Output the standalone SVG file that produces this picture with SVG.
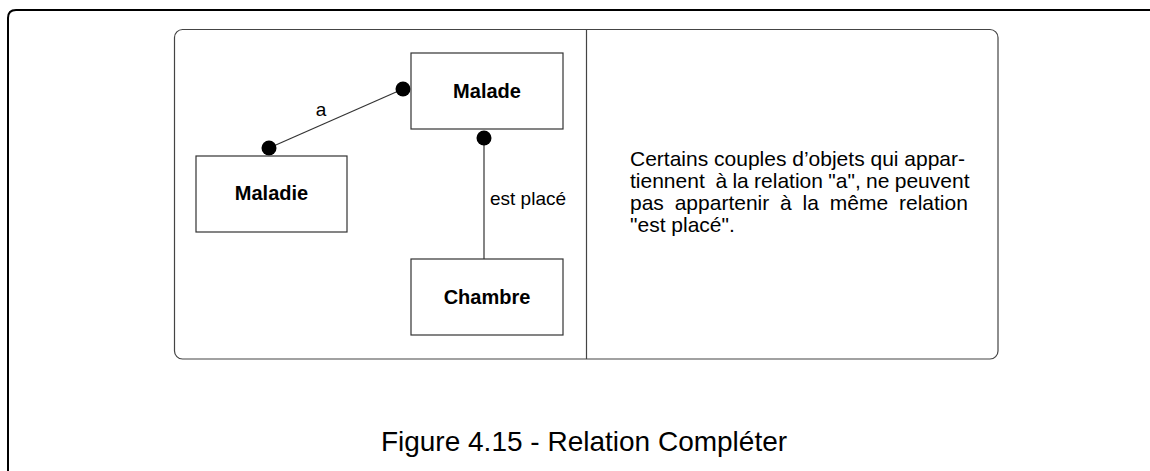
<svg xmlns="http://www.w3.org/2000/svg" width="1150" height="471" viewBox="0 0 1150 471">
<style>
.frame{fill:none;stroke:#000;stroke-width:2}
.panel{fill:none;stroke:#444;stroke-width:1.2}
.box{fill:#fff;stroke:#333;stroke-width:1.2}
.edge{fill:none;stroke:#333;stroke-width:1.2}
.dot{fill:#000}
.bold{font-family:"Liberation Sans",Arial,sans-serif;font-weight:bold;font-size:20px;fill:#000;text-anchor:middle}
.lbl{font-family:"Liberation Sans",Arial,sans-serif;font-size:19px;fill:#000}
.para{font-family:"Liberation Sans",Arial,sans-serif;font-size:21px;fill:#000;white-space:pre}
.cap{font-family:"Liberation Sans",Arial,sans-serif;font-size:28px;fill:#000;text-anchor:middle}
</style>
<rect width="1150" height="471" fill="#fff"/>
<path class="frame" d="M8 471 V18 Q8 10 16 10 H1150"/>
<rect class="panel" x="174.5" y="29.5" width="823.5" height="329.5" rx="8"/>
<line class="panel" x1="586.5" y1="29.5" x2="586.5" y2="359"/>
<g id="connectors">
<line class="edge" x1="269" y1="148" x2="403" y2="89"/>
<line class="edge" x1="484" y1="138" x2="484" y2="259"/>
<circle class="dot" cx="403" cy="89" r="7.5"/>
<circle class="dot" cx="269" cy="148" r="7.5"/>
<circle class="dot" cx="484" cy="138" r="7.5"/>
<text class="lbl" x="321" y="116" text-anchor="middle">a</text>
<text class="lbl" x="490" y="205">est placé</text>
</g>
<g id="malade">
<rect class="box" x="411" y="53" width="152" height="76"/>
<text class="bold" x="487" y="98">Malade</text>
</g>
<g id="maladie">
<rect class="box" x="196" y="156" width="151" height="76"/>
<text class="bold" x="271.5" y="200">Maladie</text>
</g>
<g id="chambre">
<rect class="box" x="411" y="259" width="152" height="76"/>
<text class="bold" x="487" y="304">Chambre</text>
</g>
<g id="note">
<text class="para" x="630" y="166">Certains couples d’objets qui appar-</text>
<text class="para" x="630" y="188" word-spacing="-0.5" xml:space="preserve">tiennent  à la relation "a", ne peuvent</text>
<text class="para" x="630" y="210" word-spacing="5">pas appartenir à la même relation</text>
<text class="para" x="630" y="232">"est placé".</text>
</g>
<text class="cap" x="584" y="451">Figure 4.15 - Relation Compléter</text>
</svg>
